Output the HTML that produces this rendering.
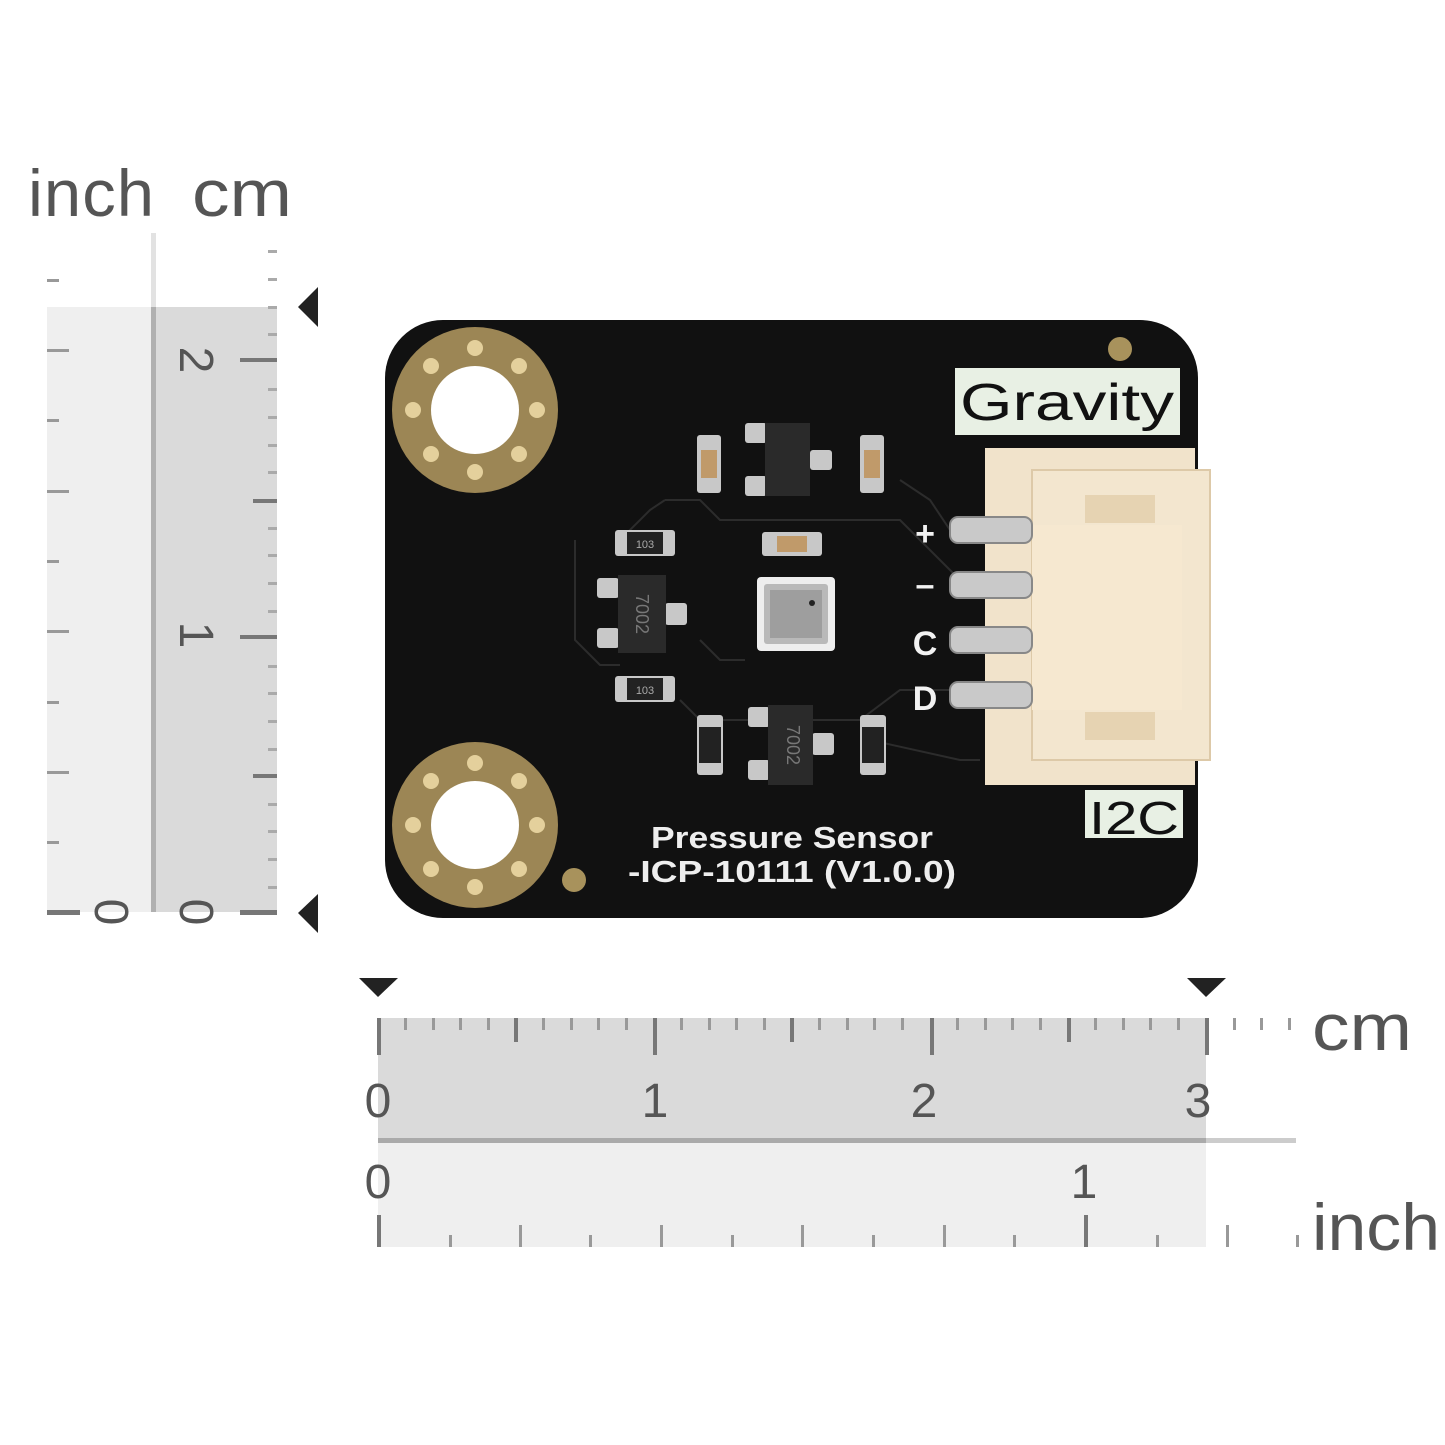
<!DOCTYPE html>
<html><head><meta charset="utf-8"><style>
html,body{margin:0;padding:0;background:#fff;}
svg{display:block;}
text{font-family:"Liberation Sans",sans-serif;}
</style></head><body>
<svg width="1445" height="1445" viewBox="0 0 1445 1445" xmlns="http://www.w3.org/2000/svg">
<rect width="1445" height="1445" fill="#fff"/>
<!-- LEFT RULER -->
<text x="28" y="216" font-size="66" fill="#555" letter-spacing="1" font-weight="500" textLength="127" lengthAdjust="spacingAndGlyphs">inch</text>
<text x="192" y="216" font-size="66" fill="#555" textLength="100" lengthAdjust="spacingAndGlyphs">cm</text>
<rect x="47" y="307" width="106" height="605" fill="#efefef"/>
<rect x="153" y="307" width="124" height="605" fill="#dadada"/>
<rect x="151" y="233" width="5" height="74" fill="#e2e2e2"/>
<rect x="151" y="307" width="5" height="605" fill="#b0b0b0"/>
<g fill="#999">
<rect x="47" y="279" width="12" height="3"/>
<rect x="47" y="349" width="22" height="3"/>
<rect x="47" y="419" width="12" height="3"/>
<rect x="47" y="490" width="22" height="3"/>
<rect x="47" y="560" width="12" height="3"/>
<rect x="47" y="630" width="22" height="3"/>
<rect x="47" y="701" width="12" height="3"/>
<rect x="47" y="771" width="22" height="3"/>
<rect x="47" y="841" width="12" height="3"/>
</g>
<rect x="47" y="910" width="33" height="5" fill="#777"/>
<g fill="#aaa">
<rect x="268" y="250" width="9" height="3"/><rect x="268" y="278" width="9" height="3"/><rect x="268" y="306" width="9" height="3"/><rect x="268" y="333" width="9" height="3"/>
<rect x="268" y="388" width="9" height="3"/><rect x="268" y="416" width="9" height="3"/><rect x="268" y="444" width="9" height="3"/><rect x="268" y="471" width="9" height="3"/>
<rect x="268" y="527" width="9" height="3"/><rect x="268" y="554" width="9" height="3"/><rect x="268" y="582" width="9" height="3"/><rect x="268" y="610" width="9" height="3"/>
<rect x="268" y="665" width="9" height="3"/><rect x="268" y="692" width="9" height="3"/><rect x="268" y="720" width="9" height="3"/><rect x="268" y="748" width="9" height="3"/>
<rect x="268" y="803" width="9" height="3"/><rect x="268" y="830" width="9" height="3"/><rect x="268" y="858" width="9" height="3"/><rect x="268" y="886" width="9" height="3"/>
</g>
<g fill="#777">
<rect x="240" y="358" width="37" height="4"/>
<rect x="253" y="499" width="24" height="4"/>
<rect x="240" y="635" width="37" height="4"/>
<rect x="253" y="774" width="24" height="4"/>
<rect x="240" y="910" width="37" height="5"/>
</g>
<g font-size="48" fill="#555">
<text transform="translate(93,912) rotate(90)" text-anchor="middle" dy="-2">0</text>
<text transform="translate(178,912) rotate(90)" text-anchor="middle" dy="-2">0</text>
<text transform="translate(178,635) rotate(90)" text-anchor="middle" dy="-2">1</text>
<text transform="translate(178,360) rotate(90)" text-anchor="middle" dy="-2">2</text>
</g>
<polygon points="298,307 318,287 318,327" fill="#222"/>
<polygon points="298,913 318,894 318,933" fill="#222"/>
<!-- BOTTOM RULER -->
<polygon points="359,978 398,978 378,997" fill="#222"/>
<polygon points="1187,978 1226,978 1206,997" fill="#222"/>
<rect x="378" y="1018" width="828" height="120" fill="#dadada"/>
<rect x="378" y="1138" width="918" height="5" fill="#ccc"/>
<rect x="378" y="1138" width="828" height="5" fill="#aaa"/>
<rect x="378" y="1143" width="828" height="104" fill="#efefef"/>
<g fill="#999">
<rect x="404" y="1018" width="3" height="12"/><rect x="432" y="1018" width="3" height="12"/><rect x="459" y="1018" width="3" height="12"/><rect x="487" y="1018" width="3" height="12"/>
<rect x="542" y="1018" width="3" height="12"/><rect x="570" y="1018" width="3" height="12"/><rect x="597" y="1018" width="3" height="12"/><rect x="625" y="1018" width="3" height="12"/>
<rect x="680" y="1018" width="3" height="12"/><rect x="708" y="1018" width="3" height="12"/><rect x="735" y="1018" width="3" height="12"/><rect x="763" y="1018" width="3" height="12"/>
<rect x="818" y="1018" width="3" height="12"/><rect x="846" y="1018" width="3" height="12"/><rect x="873" y="1018" width="3" height="12"/><rect x="901" y="1018" width="3" height="12"/>
<rect x="956" y="1018" width="3" height="12"/><rect x="984" y="1018" width="3" height="12"/><rect x="1011" y="1018" width="3" height="12"/><rect x="1039" y="1018" width="3" height="12"/>
<rect x="1094" y="1018" width="3" height="12"/><rect x="1122" y="1018" width="3" height="12"/><rect x="1149" y="1018" width="3" height="12"/><rect x="1177" y="1018" width="3" height="12"/>
<rect x="1233" y="1018" width="3" height="12"/><rect x="1260" y="1018" width="3" height="12"/><rect x="1288" y="1018" width="3" height="12"/>
</g>
<g fill="#777">
<rect x="377" y="1018" width="4" height="37"/><rect x="514" y="1018" width="4" height="24"/>
<rect x="653" y="1018" width="4" height="37"/><rect x="790" y="1018" width="4" height="24"/>
<rect x="930" y="1018" width="4" height="37"/><rect x="1067" y="1018" width="4" height="24"/>
<rect x="1205" y="1018" width="4" height="37"/>
</g>
<g font-size="48" fill="#555">
<text x="378" y="1117" text-anchor="middle">0</text>
<text x="655" y="1117" text-anchor="middle">1</text>
<text x="924" y="1117" text-anchor="middle">2</text>
<text x="1198" y="1117" text-anchor="middle">3</text>
<text x="378" y="1198" text-anchor="middle">0</text>
<text x="1084" y="1198" text-anchor="middle">1</text>
</g>
<g fill="#999">
<rect x="449" y="1235" width="3" height="12"/><rect x="519" y="1225" width="3" height="22"/>
<rect x="589" y="1235" width="3" height="12"/><rect x="660" y="1225" width="3" height="22"/>
<rect x="731" y="1235" width="3" height="12"/><rect x="801" y="1225" width="3" height="22"/>
<rect x="872" y="1235" width="3" height="12"/><rect x="943" y="1225" width="3" height="22"/>
<rect x="1013" y="1235" width="3" height="12"/>
<rect x="1156" y="1235" width="3" height="12"/><rect x="1226" y="1225" width="3" height="22"/><rect x="1296" y="1235" width="3" height="12"/>
</g>
<rect x="377" y="1215" width="4" height="32" fill="#777"/>
<rect x="1084" y="1215" width="4" height="32" fill="#777"/>
<text x="1312" y="1050" font-size="66" fill="#555" textLength="100" lengthAdjust="spacingAndGlyphs">cm</text>
<text x="1312" y="1250" font-size="66" fill="#555" textLength="128" lengthAdjust="spacingAndGlyphs">inch</text>
<!-- PCB -->
<rect x="385" y="320" width="813" height="598" rx="58" fill="#111"/>
<g>
<circle cx="475" cy="410" r="83" fill="#9c8655"/>
<circle cx="475" cy="410" r="44" fill="#fff"/>
<circle cx="475" cy="825" r="83" fill="#9c8655"/>
<circle cx="475" cy="825" r="44" fill="#fff"/>
<g fill="#e4d09c">
<circle cx="475" cy="348" r="8"/><circle cx="519" cy="366" r="8"/><circle cx="537" cy="410" r="8"/><circle cx="519" cy="454" r="8"/><circle cx="475" cy="472" r="8"/><circle cx="431" cy="454" r="8"/><circle cx="413" cy="410" r="8"/><circle cx="431" cy="366" r="8"/>
<circle cx="475" cy="763" r="8"/><circle cx="519" cy="781" r="8"/><circle cx="537" cy="825" r="8"/><circle cx="519" cy="869" r="8"/><circle cx="475" cy="887" r="8"/><circle cx="431" cy="869" r="8"/><circle cx="413" cy="825" r="8"/><circle cx="431" cy="781" r="8"/>
</g>
<circle cx="1120" cy="349" r="12" fill="#a8925c"/>
<circle cx="574" cy="880" r="12" fill="#a8925c"/>
</g>
<g fill="none" stroke="#2c2c2c" stroke-width="2">
<path d="M665 500 L700 500 L720 520 L900 520 L960 580"/>
<path d="M575 540 L575 640 L600 665 L620 665"/>
<path d="M620 540 L650 510 L665 500"/>
<path d="M680 700 L700 720 L860 720 L900 690 L950 690"/>
<path d="M700 640 L720 660 L745 660"/>
<path d="M870 740 L960 760 L980 760"/>
<path d="M900 480 L930 500 L950 530"/>
</g>
<rect x="955" y="368" width="225" height="67" fill="#e8f0e4"/>
<text x="1067" y="420" font-size="52" text-anchor="middle" fill="#111" textLength="214" lengthAdjust="spacingAndGlyphs">Gravity</text>
<rect x="1085" y="790" width="98" height="48" fill="#e8f0e4"/>
<text x="1134" y="834" font-size="46" text-anchor="middle" fill="#111" textLength="90" lengthAdjust="spacingAndGlyphs">I2C</text>
<g font-size="34" font-weight="bold" fill="#f2f2f2" text-anchor="middle">
<text x="925" y="545">+</text><text x="925" y="596">–</text><text x="925" y="655">C</text><text x="925" y="710">D</text>
</g>
<text x="792" y="848" font-size="31" text-anchor="middle" fill="#eee" font-weight="bold" textLength="282" lengthAdjust="spacingAndGlyphs">Pressure  Sensor</text>
<text x="792" y="882" font-size="31" text-anchor="middle" fill="#eee" font-weight="bold" textLength="328" lengthAdjust="spacingAndGlyphs">-ICP-10111 (V1.0.0)</text>
<rect x="985" y="448" width="210" height="337" fill="#f1e3cb"/>
<rect x="1032" y="470" width="178" height="290" fill="#f3e6cf" stroke="#ddc9a8" stroke-width="2"/>
<rect x="1085" y="495" width="70" height="28" fill="#e6d3b2"/>
<rect x="1085" y="712" width="70" height="28" fill="#e6d3b2"/>
<rect x="1032" y="525" width="150" height="185" fill="#f6e8d0"/>
<g fill="#c9c9c9" stroke="#888" stroke-width="2">
<rect x="950" y="517" width="82" height="26" rx="8"/>
<rect x="950" y="572" width="82" height="26" rx="8"/>
<rect x="950" y="627" width="82" height="26" rx="8"/>
<rect x="950" y="682" width="82" height="26" rx="8"/>
</g>
<g>
<rect x="757" y="577" width="78" height="74" rx="4" fill="#eee"/>
<rect x="764" y="584" width="64" height="60" rx="3" fill="#b9b9b9"/>
<rect x="770" y="590" width="52" height="48" fill="#9e9e9e"/>
<circle cx="812" cy="603" r="3" fill="#222"/>
<rect x="745" y="423" width="22" height="20" rx="3" fill="#c8c8c8"/>
<rect x="745" y="476" width="22" height="20" rx="3" fill="#c8c8c8"/>
<rect x="810" y="450" width="22" height="20" rx="3" fill="#c8c8c8"/>
<rect x="765" y="423" width="45" height="73" fill="#2a2a2a"/>
<rect x="597" y="578" width="22" height="20" rx="3" fill="#c8c8c8"/>
<rect x="597" y="628" width="22" height="20" rx="3" fill="#c8c8c8"/>
<rect x="665" y="603" width="22" height="22" rx="3" fill="#c8c8c8"/>
<rect x="618" y="575" width="48" height="78" fill="#2a2a2a"/>
<text transform="translate(636,614) rotate(90)" font-size="18" fill="#777" text-anchor="middle">7002</text>
<rect x="748" y="707" width="22" height="20" rx="3" fill="#c8c8c8"/>
<rect x="748" y="760" width="22" height="20" rx="3" fill="#c8c8c8"/>
<rect x="812" y="733" width="22" height="22" rx="3" fill="#c8c8c8"/>
<rect x="768" y="705" width="45" height="80" fill="#2a2a2a"/>
<text transform="translate(787,745) rotate(90)" font-size="18" fill="#777" text-anchor="middle">7002</text>
<rect x="697" y="435" width="24" height="58" rx="3" fill="#c8c8c8"/><rect x="701" y="450" width="16" height="28" fill="#c09a6a"/>
<rect x="860" y="435" width="24" height="58" rx="3" fill="#c8c8c8"/><rect x="864" y="450" width="16" height="28" fill="#c09a6a"/>
<rect x="762" y="532" width="60" height="24" rx="3" fill="#c8c8c8"/><rect x="777" y="536" width="30" height="16" fill="#c09a6a"/>
<rect x="615" y="530" width="60" height="26" rx="3" fill="#c8c8c8"/><rect x="627" y="532" width="36" height="22" fill="#222"/><text x="645" y="548" font-size="11" fill="#aaa" text-anchor="middle">103</text>
<rect x="615" y="676" width="60" height="26" rx="3" fill="#c8c8c8"/><rect x="627" y="678" width="36" height="22" fill="#222"/><text x="645" y="694" font-size="11" fill="#aaa" text-anchor="middle">103</text>
<rect x="697" y="715" width="26" height="60" rx="3" fill="#c8c8c8"/><rect x="699" y="727" width="22" height="36" fill="#222"/>
<rect x="860" y="715" width="26" height="60" rx="3" fill="#c8c8c8"/><rect x="862" y="727" width="22" height="36" fill="#222"/>
</g>
</svg>
</body></html>
